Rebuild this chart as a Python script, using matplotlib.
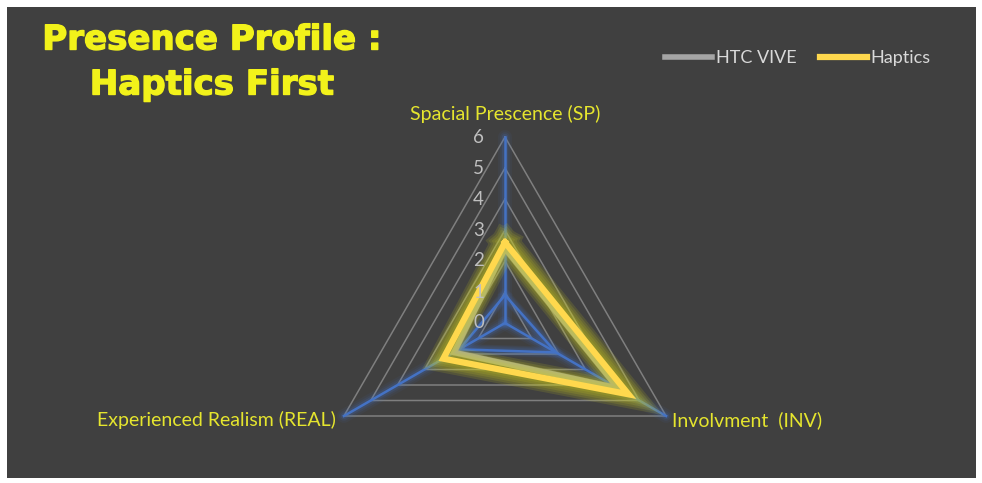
import numpy as np
import matplotlib
matplotlib.use("Agg")
import matplotlib.pyplot as plt
import matplotlib.patheffects as pe
from matplotlib.patches import Rectangle

# --- Data ---
axes_labels = ["Spacial Prescence (SP)", "Involvment  (INV)", "Experienced Realism (REAL)"]
htc_vive = [2.4, 4.2, 1.9]
haptics = [2.6, 4.6, 2.3]
baseline = [0.9, 1.9, 1.7]   # blue inner series (no legend entry)
ticks = [0, 1, 2, 3, 4, 5, 6]

# --- Style ---
BG = "#404040"
GRID = "#7f7f7f"
BLUE = "#4472c4"
YELLOW = "#ffd84d"
GRAY = "#a5a5a5"
LABEL = "#e5e52e"
TITLE = "#f2f21a"
plt.rcParams['font.family'] = ['Lato', 'DejaVu Sans']

W, H = 982, 483
cx, cy, unit = 505, 160, 31.0   # radar centre (px from left / bottom) and px per unit

# angles: SP at top, INV lower right, REAL lower left
angles = np.deg2rad([90, -30, 210])


def xy(vals):
    v = np.asarray(vals, dtype=float)
    x = v * np.cos(angles)
    y = v * np.sin(angles)
    return np.append(x, x[0]), np.append(y, y[0])


def glow_plot(ax, vals, color, core_lw, glow_color, glow_lw, glow_alpha, z, label=None):
    x, y = xy(vals)
    for k in range(5):
        ax.plot(x, y, color=glow_color, lw=glow_lw - k * (glow_lw - core_lw) / 5,
                alpha=glow_alpha, solid_joinstyle="miter", zorder=z)
    ax.plot(x, y, color=color, lw=core_lw, solid_joinstyle="miter", zorder=z + 0.5, label=label)


fig = plt.figure(figsize=(W / 100, H / 100), dpi=100, facecolor="white")
fig.patches.append(Rectangle((7 / W, 5 / H), 969 / W, 471 / H, transform=fig.transFigure,
                             facecolor=BG, edgecolor="none", zorder=-5))

ax = fig.add_axes([0, 0, 1, 1])
ax.set_facecolor("none")
ax.set_xlim(-cx / unit, (W - cx) / unit)
ax.set_ylim(-cy / unit, (H - cy) / unit)
ax.axis("off")

# --- Grid triangles ---
for t in ticks[1:]:
    gx, gy = xy([t, t, t])
    ax.plot(gx, gy, color=GRID, lw=1.1, zorder=1)

# --- Radial axis lines (blue, glowing) ---
for a in angles:
    xs = [0, ticks[-1] * np.cos(a)]
    ys = [0, ticks[-1] * np.sin(a)]
    for lw, al in [(10, 0.07), (7, 0.1), (4.5, 0.18)]:
        ax.plot(xs, ys, color=BLUE, lw=lw, alpha=al, solid_capstyle="round", zorder=2)
    ax.plot(xs, ys, color=BLUE, lw=1.8, zorder=2.5)

# --- Series ---
glow_plot(ax, baseline, BLUE, 1.8, BLUE, 8, 0.09, 3)
glow_plot(ax, htc_vive, GRAY, 4, GRAY, 5, 0.1, 4, label="HTC VIVE")
glow_plot(ax, haptics, YELLOW, 4.5, "#d4d41a", 20, 0.14, 5, label="Haptics")

# --- Tick labels ---
for t in ticks:
    ax.text(-0.85, t, str(t), color="#bfbfbf", fontsize=13.5, ha="center", va="center", zorder=6)

# --- Category labels ---
ax.text(0, 6.74, axes_labels[0], color=LABEL, fontsize=14, ha="center", va="center")
ax.text((672 - cx) / unit, -97 / unit, axes_labels[1], color=LABEL, fontsize=14,
        ha="left", va="center")
ax.text((336 - cx) / unit, -97 / unit, axes_labels[2], color=LABEL, fontsize=14,
        ha="right", va="center")

# --- Title ---
thick = [pe.withStroke(linewidth=1.0, foreground=TITLE)]
fig.text(212 / W, 1 - 40 / H, "Presence Profile :", color=TITLE, fontsize=24.5,
         fontweight="bold", family="DejaVu Sans", ha="center", va="center", path_effects=thick)
fig.text(212 / W, 1 - 85 / H, "Haptics First", color=TITLE, fontsize=24.5,
         fontweight="bold", family="DejaVu Sans", ha="center", va="center", path_effects=thick)

# --- Legend ---
leg = ax.legend(ncol=2, frameon=False, loc="center right",
                bbox_to_anchor=(947 / W, 1 - 58 / H), bbox_transform=fig.transFigure,
                fontsize=13, handlelength=2.6, handletextpad=0.2, columnspacing=1.3)
for txt in leg.get_texts():
    txt.set_color("#d9d9d9")

fig.savefig("out.png", dpi=100, facecolor="white")
